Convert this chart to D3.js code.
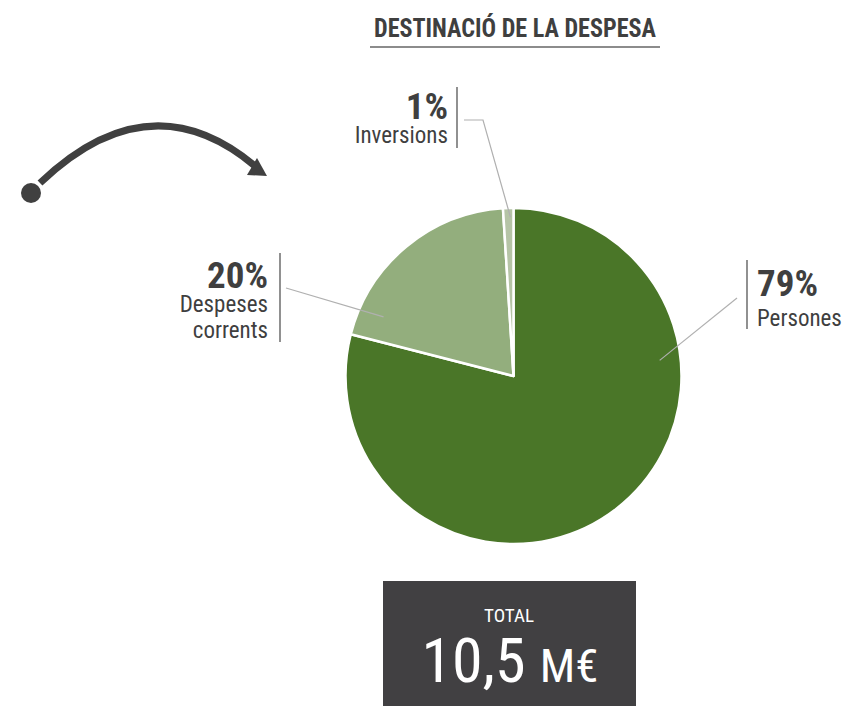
<!DOCTYPE html>
<html>
<head>
<meta charset="utf-8">
<script src="https://cdn.jsdelivr.net/npm/d3@7"></script>
<style>
  body { margin: 0; background: #fff; }
  svg text { font-family: "Liberation Sans Narrow", "Roboto Condensed", "DejaVu Sans Condensed", sans-serif; }
</style>
</head>
<body>
<div id="chart"></div>
<script>
// data
const categories = ["Persones", "Despeses corrents", "Inversions"];
const labelLines = [["Persones"], ["Despeses", "corrents"], ["Inversions"]];
const values = [79, 20, 1];
const colors = ["#4a7628", "#93ae7d", "#b5c4a6"];
const title = "DESTINACIÓ DE LA DESPESA";
const totalLabel = "TOTAL";
const totalValue = "10,5";
const totalUnit = "M€";

const width = 844, height = 706;
const cx = 513.5, cy = 376, radius = 168;

const svg = d3.select("#chart").append("svg")
  .attr("width", width)
  .attr("height", height);

/////////////
// TITLE   //
/////////////
svg.append("text")
  .attr("x", 515).attr("y", 37)
  .attr("text-anchor", "middle")
  .attr("font-size", 25)
  .attr("font-weight", "bold")
  .attr("fill", "#3f3f3f")
  .attr("textLength", 282)
  .attr("lengthAdjust", "spacingAndGlyphs")
  .text(title);

svg.append("line")
  .attr("x1", 370).attr("x2", 660)
  .attr("y1", 47).attr("y2", 47)
  .attr("stroke", "#8c8c8c")
  .attr("stroke-width", 2);

/////////////
// ARROW   //
/////////////
const arrow = d3.path();
arrow.moveTo(40, 183);
arrow.quadraticCurveTo(150, 78, 255, 166);
svg.append("path")
  .attr("d", arrow.toString())
  .attr("fill", "none")
  .attr("stroke", "#404040")
  .attr("stroke-width", 7);
svg.append("path")
  .attr("d", "M267,176L257,158L247,175Z")
  .attr("fill", "#404040");
svg.append("circle")
  .attr("cx", 31).attr("cy", 193).attr("r", 10)
  .attr("fill", "#404040");

/////////////
// PIE     //
/////////////
const pie = d3.pie().sort(null).value(d => d)(values);
const arc = d3.arc().innerRadius(0).outerRadius(radius);

const g = svg.append("g").attr("transform", `translate(${cx},${cy})`);
g.selectAll("path")
  .data(pie)
  .enter().append("path")
  .attr("d", arc)
  .attr("fill", (d, i) => colors[i])
  .attr("stroke", "#fff")
  .attr("stroke-width", 2.5)
  .attr("stroke-linejoin", "round");

/////////////
// LABELS  //
/////////////
// anchor: fraction along the slice and fraction of radius where the leader starts
const layout = [
  { f: 0.295, r: 0.875, elbow: null, end: [737, 298], bar: [747, 260, 329], tx: 757, anchor: "start", pctY: 296, lineY: [326] },
  { f: 0.14, r: 0.85, elbow: null, end: [286, 288], bar: [280, 253, 342], tx: 268, anchor: "end", pctY: 288, lineY: [312, 338] },
  { f: 0.7, r: 0.945, elbow: [483, 120], end: [464, 120], bar: [457, 87, 148], tx: 448, anchor: "end", pctY: 119, lineY: [143] }
];

pie.forEach((d, i) => {
  const L = layout[i];
  const a = d.startAngle + L.f * (d.endAngle - d.startAngle);
  const px = cx + Math.sin(a) * radius * L.r;
  const py = cy - Math.cos(a) * radius * L.r;

  const p = d3.path();
  p.moveTo(px, py);
  if (L.elbow) p.lineTo(L.elbow[0], L.elbow[1]);
  p.lineTo(L.end[0], L.end[1]);
  svg.append("path")
    .attr("d", p.toString())
    .attr("fill", "none")
    .attr("stroke", "#b0b0b0")
    .attr("stroke-width", 1.2);

  svg.append("line")
    .attr("x1", L.bar[0]).attr("x2", L.bar[0])
    .attr("y1", L.bar[1]).attr("y2", L.bar[2])
    .attr("stroke", "#555")
    .attr("stroke-width", 1.3);

  svg.append("text")
    .attr("x", L.tx).attr("y", L.pctY)
    .attr("text-anchor", L.anchor)
    .attr("font-size", 37)
    .attr("font-weight", "bold")
    .attr("fill", "#3f3f3f")
    .text(values[i] + "%");

  labelLines[i].forEach((t, j) => {
    svg.append("text")
      .attr("x", L.tx).attr("y", L.lineY[j])
      .attr("text-anchor", L.anchor)
      .attr("font-size", 23)
      .attr("fill", "#3f3f3f")
      .text(t);
  });
});

/////////////
// TOTAL   //
/////////////
svg.append("rect")
  .attr("x", 383).attr("y", 581)
  .attr("width", 253).attr("height", 125)
  .attr("fill", "#414042");

svg.append("text")
  .attr("x", 509).attr("y", 622)
  .attr("text-anchor", "middle")
  .attr("font-size", 19)
  .attr("fill", "#fff")
  .text(totalLabel);

const tot = svg.append("text")
  .attr("x", 510).attr("y", 682)
  .attr("text-anchor", "middle")
  .attr("fill", "#fff");
tot.append("tspan").attr("font-size", 62).text(totalValue + " ");
tot.append("tspan").attr("font-size", 47).text(totalUnit);
</script>
</body>
</html>
